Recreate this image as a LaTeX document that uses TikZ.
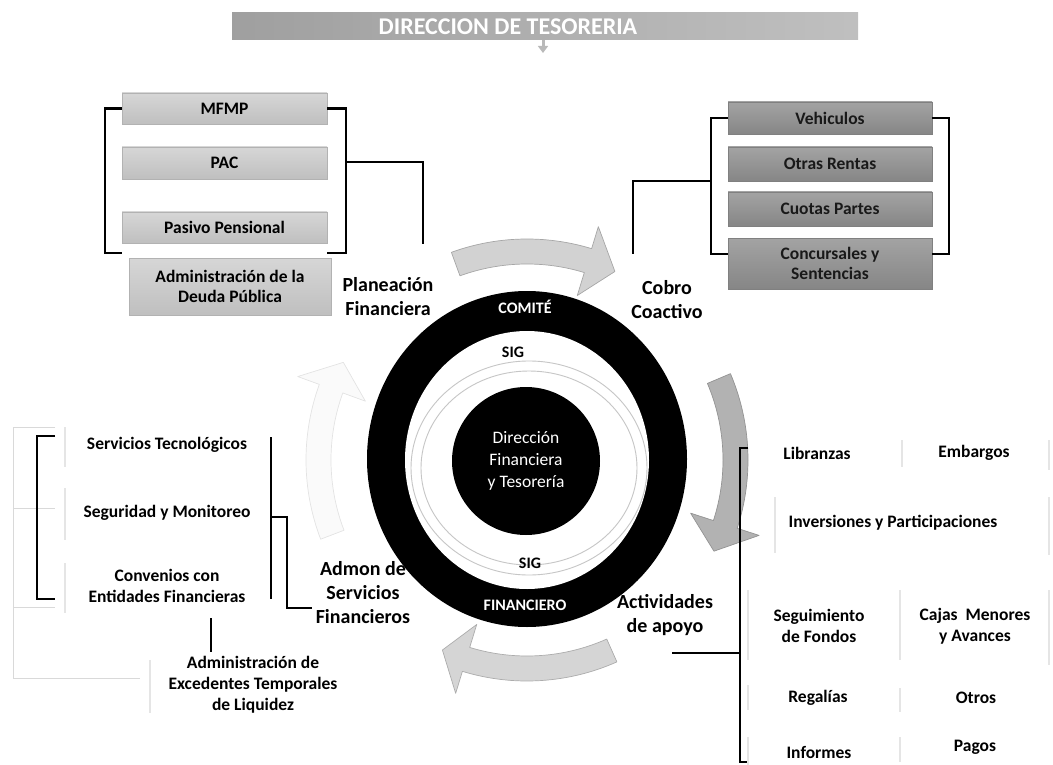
\documentclass[tikz,border=0pt]{standalone}
\usepackage{fontspec}
\setmainfont{Carlito}
\usepackage{xcolor}
\usepackage{tikz}
\usetikzlibrary{arrows.meta, positioning}

\newcommand{\cyclearrow}[5]{%
  \filldraw[fill=#4, draw=#5, line width=0.7pt, line join=round]
    (#1:196pt) arc[start angle=#1, end angle=#2, radius=196pt]
    -- (#2:172pt) -- (#3:208pt) -- (#2:244pt) -- (#2:221pt)
    arc[start angle=#2, end angle=#1, radius=221pt] -- cycle;}

\begin{document}
\begin{tikzpicture}[
  x=1pt, y=-1pt,
  every node/.style={align=center, inner sep=0pt},
  ribbon/.style={top color=gray!32, bottom color=gray!50, draw=gray!60, minimum width=205pt, font=\fontsize{17.5}{20}\selectfont\bfseries},
  darkribbon/.style={top color=gray!72, bottom color=gray!95, draw=gray!100, minimum width=204pt, text=black!90, font=\fontsize{17.5}{20}\selectfont\bfseries},
  phase/.style={font=\fontsize{20}{24}\selectfont\bfseries},
  item/.style={font=\fontsize{17.5}{21}\selectfont\bfseries},
  ringtext/.style={text=white, font=\fontsize{16}{18}\selectfont\bfseries},
  bracket/.style={line width=2.2pt},
  faint/.style={gray!30, line width=1pt}
]
\useasboundingbox (0,0) rectangle (1053,765);

\node (banda) at (545,26.5) [left color=gray!75, right color=gray!50, minimum width=626pt, minimum height=27pt] {};
\node (titulo) at (508,26.5) [text=white, font=\fontsize{24}{24}\selectfont\bfseries] {DIRECCION DE TESORERIA};
\coordinate (flecha) at (543,53);
\draw[gray!55, line width=3pt, -{Triangle[width=10pt,length=7pt]}] (banda.south -| flecha) -- (flecha);

\begin{scope}[shift={(527,460)}]
  \cyclearrow{110}{73}{65}{gray!35}{gray!70}
  \cyclearrow{23}{-18}{-26}{gray!60}{gray!85}
  \cyclearrow{-66}{-107}{-114}{gray!33}{gray!65}
  \cyclearrow{201}{160}{152}{gray!4}{gray!22}
\end{scope}

\fill[black] (527,459) ellipse[x radius=160pt, y radius=168pt];
\fill[white] (527,460) ellipse[x radius=122pt, y radius=129pt];
\draw[gray!45, line width=0.9pt] (529,468) ellipse[x radius=118pt, y radius=107pt];
\draw[gray!45, line width=0.9pt] (529,468) ellipse[x radius=108pt, y radius=97pt];
\node (core) at (526,461) [circle, fill=black, text=white, minimum size=148pt, font=\fontsize{17.5}{22}\selectfont] {Dirección\\Financiera\\y Tesorería};
\node[ringtext] (comite) at (525,307) {COMITÉ};
\node[ringtext] (financ) at (525,605) {FINANCIERO};
\node[ringtext, text=black] (sigtop) at (513,352) {SIG};
\node[ringtext, text=black] (sigbot) at (530,563) {SIG};

\node[ribbon, minimum height=31pt] (mfmp) at (224.5,108.5) {MFMP};
\node[ribbon, minimum height=32pt] (pac) at (224.5,163) {PAC};
\node[ribbon, minimum height=31pt] (pasivo) at (224.5,227.5) {Pasivo Pensional};
\node[ribbon, minimum height=57pt, minimum width=202pt] (deuda) at (230,286.5) {Administración de la\\Deuda Pública};
\node[phase] (planea) at (388,297) {Planeación\\Financiera};

\coordinate (pl-bl) at (105,253);
\coordinate (pl-br) at (346,253);
\coordinate (pl-mid) at (346,162);
\coordinate (pl-end) at (423,244);
\draw[bracket] (mfmp.west) -| (pl-bl) -- ++(17,0);
\draw[bracket] (mfmp.east) -| (pl-br) -- ++(-19,0);
\draw[bracket] (pl-mid) -| (pl-end);

\node[darkribbon, minimum height=32pt] (vehic) at (830,118) {Vehiculos};
\node[darkribbon, minimum height=34pt] (otras) at (830,164) {Otras Rentas};
\node[darkribbon, minimum height=34pt] (cuotas) at (830,209) {Cuotas Partes};
\node[darkribbon, minimum height=51pt] (concur) at (830,263.5) {Concursales y\\Sentencias};
\node[phase] (cobro) at (667,300) {Cobro\\Coactivo};

\coordinate (cc-bl) at (711,254);
\coordinate (cc-br) at (949,254);
\coordinate (cc-mid) at (711,181);
\coordinate (cc-end) at (633,254);
\draw[bracket] (vehic.west) -| (cc-bl) -- ++(17,0);
\draw[bracket] (vehic.east) -| (cc-br) -- ++(-17,0);
\draw[bracket] (cc-mid) -| (cc-end);

\node[item] (tecno) at (167,445) {Servicios Tecnológicos};
\node[item] (segur) at (167,513) {Seguridad y Monitoreo};
\node[item] (conven) at (167,586) {Convenios con\\Entidades Financieras};
\node[item] (exced) at (253,685) {Administración de\\Excedentes Temporales\\de Liquidez};
\node[phase] (admon) at (363,593) {Admon de\\Servicios\\Financieros};

\draw[faint] (55,427) -- (13,427) -- (13,678) -- (140,678);
\draw[faint] (13,508) -- (55,508);
\draw[faint] (13,607) -- (55,607);

\coordinate (sf-tl) at (55,436);
\coordinate (sf-bl) at (55,599);
\coordinate (sf-tr) at (271,437);
\coordinate (sf-br) at (271,599);
\coordinate (sf-mid) at (271,517);
\coordinate (sf-end) at (312,608);
\coordinate (ex-top) at (211,618);
\coordinate (ex-bot) at (211,652);
\draw[bracket] (sf-tl) -- ++(-18,0) |- (sf-bl);
\draw[bracket] (sf-tr) -- (sf-br);
\draw[bracket] (sf-mid) -- ++(16,0) |- (sf-end);
\draw[bracket] (ex-top) -- (ex-bot);

\node[item] (libr) at (817,453) {Libranzas};
\node[item] (embar) at (974,453) {Embargos};
\node[item] (inver) at (893,523) {Inversiones y Participaciones};
\node[item] (segui) at (819,626) {Seguimiento\\de Fondos};
\node[item] (cajas) at (975,626) {Cajas~ Menores\\y Avances};
\node[item] (regal) at (818,698) {Regalías};
\node[item] (otros) at (976,698) {Otros};
\node[item] (infor) at (819,752) {Informes};
\node[item] (pagos) at (975,747) {Pagos};
\node[phase] (apoyo) at (665,615) {Actividades\\de apoyo};

\coordinate (ap-t) at (748,448);
\coordinate (ap-b) at (748,762);
\coordinate (ap-start) at (672,653);
\coordinate (ap-join) at (740,653);
\draw[bracket] (ap-t) -- ++(-8,0) |- (ap-b);
\draw[bracket] (ap-start) -- (ap-join);

\foreach \x/\ya/\yb in {65/427/467, 65/488/540, 65/563/613, 150/660/713, 775/497/553, 748/590/660, 748/685/710, 748/737/765, 902/440/467, 900/590/660, 900/688/712, 900/737/762, 1049/440/470, 1049/497/555, 1049/590/665}
  \draw[gray!20, line width=1.5pt] (\x,\ya) -- (\x,\yb);

\end{tikzpicture}
\end{document}
